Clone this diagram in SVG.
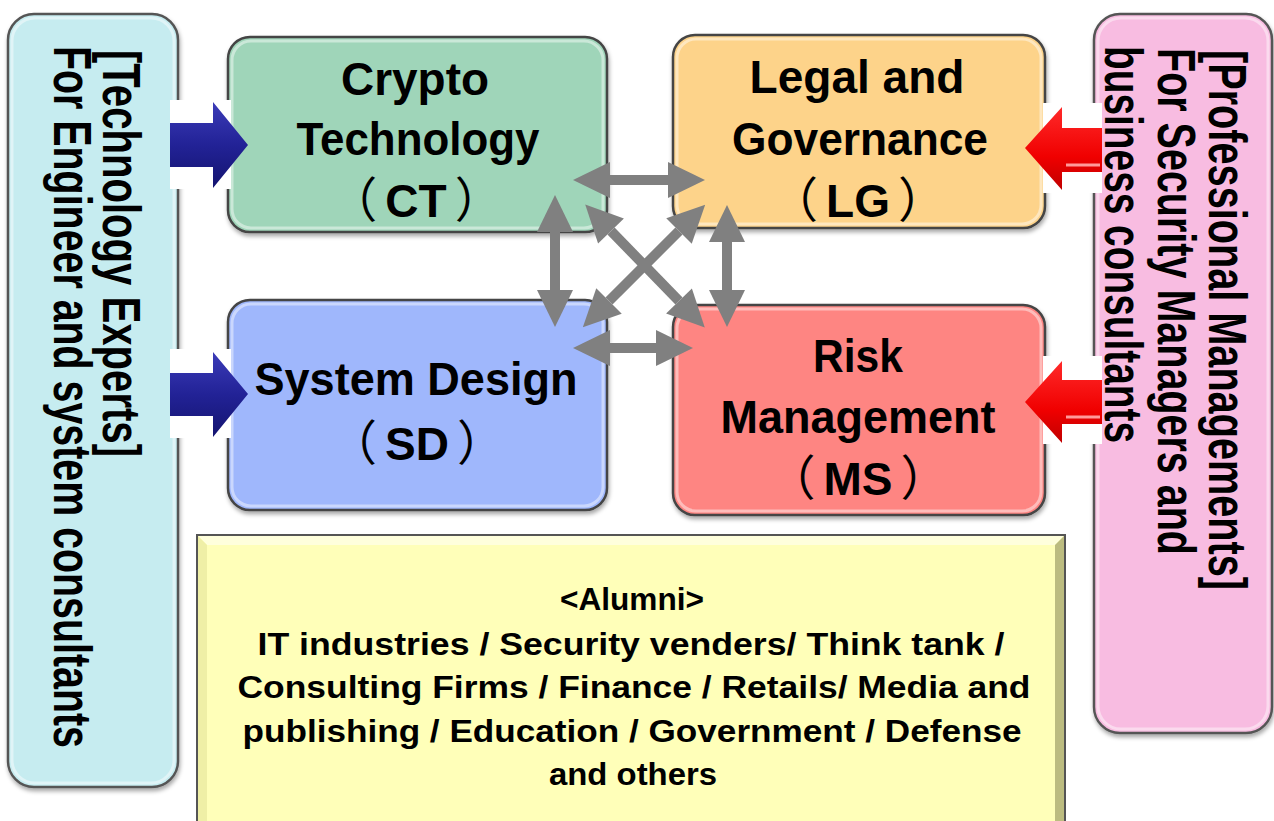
<svg xmlns="http://www.w3.org/2000/svg" width="1274" height="821" viewBox="0 0 1274 821">
<style>
  .panel { stroke: #555; stroke-width: 2.5; }
  .node { stroke: #444; stroke-width: 2.5; }
  .side { font-family: "Liberation Sans", "Noto Sans CJK JP", sans-serif; font-weight: bold; font-size: 53px; fill: #000; }
  .nt { font-family: "Liberation Sans", "Noto Sans CJK JP", sans-serif; font-weight: bold; font-size: 46px; fill: #000; text-anchor: middle; }
  .p { font-family: "Noto Sans CJK JP", sans-serif; font-weight: normal; font-size: 48px; }
  .at { font-family: "Liberation Sans", "Noto Sans CJK JP", sans-serif; font-weight: bold; font-size: 31px; fill: #000; text-anchor: middle; }
  .conn { stroke: #808080; stroke-width: 10; fill: none; marker-start: url(#gh); marker-end: url(#gh); }
  .hl { fill: none; stroke: #fff; stroke-opacity: 0.45; stroke-width: 3; }
</style>
<defs>
  <marker id="gh" markerUnits="userSpaceOnUse" markerWidth="37" markerHeight="36" viewBox="0 -18 37 36" refX="0" refY="0" orient="auto-start-reverse" overflow="visible">
    <path d="M0,-18 L37,0 L0,18 z" fill="#808080"/>
  </marker>
  <linearGradient id="blueG" x1="0" y1="0" x2="0" y2="1">
    <stop offset="0" stop-color="#3b3bb8"/>
    <stop offset="0.5" stop-color="#222296"/>
    <stop offset="1" stop-color="#141470"/>
  </linearGradient>
  <linearGradient id="redG" x1="0" y1="0" x2="0" y2="1">
    <stop offset="0" stop-color="#ff2a2a"/>
    <stop offset="0.6" stop-color="#f00000"/>
    <stop offset="1" stop-color="#c00000"/>
  </linearGradient>
  <filter id="sh" x="-5%" y="-5%" width="110%" height="112%">
    <feDropShadow dx="1" dy="3" stdDeviation="2" flood-color="#000" flood-opacity="0.35"/>
  </filter>
</defs>

<rect width="1274" height="821" fill="#fff"/>

<g id="panel-tech">
  <rect class="panel" x="8" y="14" width="170" height="773" rx="26" fill="#c6ecf0" filter="url(#sh)"/>
  <rect class="hl" x="12" y="18" width="162" height="765" rx="23"/>
  <text class="side" transform="translate(103,50) rotate(90)" textLength="407" lengthAdjust="spacingAndGlyphs">[Technology Experts]</text>
  <text class="side" transform="translate(54,46) rotate(90)" textLength="702" lengthAdjust="spacingAndGlyphs">For Engineer and system consultants</text>
</g>

<g id="panel-prof">
  <rect class="panel" x="1094" y="14" width="178" height="719" rx="26" fill="#f8bce1" filter="url(#sh)"/>
  <rect class="hl" x="1098" y="18" width="170" height="711" rx="23"/>
  <text class="side" transform="translate(1209,50) rotate(90)" textLength="540" lengthAdjust="spacingAndGlyphs">[Professional Managements]</text>
  <text class="side" transform="translate(1158,48) rotate(90)" textLength="507" lengthAdjust="spacingAndGlyphs">For Security Managers and</text>
  <text class="side" transform="translate(1105,46) rotate(90)" textLength="397" lengthAdjust="spacingAndGlyphs">business consultants</text>
</g>

<g id="node-ct">
  <rect class="node" x="228" y="37" width="379" height="195" rx="22" fill="#9fd5b9" filter="url(#sh)"/>
  <rect class="hl" x="232" y="41" width="371" height="187" rx="19"/>
  <text class="nt" x="415" y="95" textLength="148" lengthAdjust="spacingAndGlyphs">Crypto</text>
  <text class="nt" x="418" y="155" textLength="243" lengthAdjust="spacingAndGlyphs">Technology</text>
  <text class="nt" x="416" y="217"><tspan class="p">（</tspan><tspan dx="8">CT</tspan><tspan class="p" dx="8">）</tspan></text>
</g>

<g id="node-lg">
  <rect class="node" x="673" y="35" width="372" height="193" rx="22" fill="#fdd38a" filter="url(#sh)"/>
  <rect class="hl" x="677" y="39" width="364" height="185" rx="19"/>
  <text class="nt" x="857" y="93" textLength="215" lengthAdjust="spacingAndGlyphs">Legal and</text>
  <text class="nt" x="860" y="155" textLength="256" lengthAdjust="spacingAndGlyphs">Governance</text>
  <text class="nt" x="858" y="217"><tspan class="p">（</tspan><tspan dx="8">LG</tspan><tspan class="p" dx="8">）</tspan></text>
</g>

<g id="node-sd">
  <rect class="node" x="228" y="300" width="379" height="210" rx="22" fill="#9fb7fc" filter="url(#sh)"/>
  <rect class="hl" x="232" y="304" width="371" height="202" rx="19"/>
  <text class="nt" x="416" y="395" textLength="323" lengthAdjust="spacingAndGlyphs">System Design</text>
  <text class="nt" x="417" y="460"><tspan class="p">（</tspan><tspan dx="8">SD</tspan><tspan class="p" dx="8">）</tspan></text>
</g>

<g id="node-ms">
  <rect class="node" x="673" y="305" width="372" height="210" rx="22" fill="#fe8582" filter="url(#sh)"/>
  <rect class="hl" x="677" y="309" width="364" height="202" rx="19"/>
  <text class="nt" x="858" y="372" textLength="90" lengthAdjust="spacingAndGlyphs">Risk</text>
  <text class="nt" x="858" y="433" textLength="275" lengthAdjust="spacingAndGlyphs">Management</text>
  <text class="nt" x="858" y="495"><tspan class="p">（</tspan><tspan dx="8">MS</tspan><tspan class="p" dx="8">）</tspan></text>
</g>

<g id="node-alumni">
  <rect x="197" y="535" width="868" height="300" fill="#ffffb9" stroke="#555" stroke-width="2"/>
  <polygon points="198,536 1064,536 1055,545 207,545" fill="#ffffdc"/>
  <polygon points="1064,536 1064,834 1055,834 1055,545" fill="#bcbc80"/>
  <polygon points="198,536 207,545 207,834 198,834" fill="#efefa6"/>
  <rect x="197" y="535" width="868" height="300" fill="none" stroke="#555" stroke-width="2"/>
  <text class="at" x="632" y="610" textLength="144" lengthAdjust="spacingAndGlyphs">&lt;Alumni&gt;</text>
  <text class="at" x="631" y="655" textLength="747" lengthAdjust="spacingAndGlyphs">IT industries / Security venders/ Think tank /</text>
  <text class="at" x="634" y="698" textLength="793" lengthAdjust="spacingAndGlyphs">Consulting Firms / Finance / Retails/ Media and</text>
  <text class="at" x="632" y="742" textLength="779" lengthAdjust="spacingAndGlyphs">publishing / Education / Government / Defense</text>
  <text class="at" x="633" y="785" textLength="168" lengthAdjust="spacingAndGlyphs">and others</text>
</g>

<g id="input-arrows">
  <rect x="170" y="100" width="61" height="89" fill="#fff"/>
  <polygon points="170,123 213,123 213,102 248,145 213,188 213,167 170,167" fill="url(#blueG)"/>
  <rect x="170" y="349" width="61" height="89" fill="#fff"/>
  <polygon points="170,373 213,373 213,352 248,394 213,437 213,416 170,416" fill="url(#blueG)"/>
  <rect x="1043" y="103" width="59" height="90" fill="#fff"/>
  <polygon points="1102,128 1062,128 1062,107 1025,148 1062,190 1062,172 1102,172" fill="url(#redG)"/>
  <line x1="1066" y1="165" x2="1100" y2="165" stroke="#ff9a9a" stroke-width="3"/>
  <rect x="1043" y="356" width="59" height="88" fill="#fff"/>
  <polygon points="1102,380 1062,380 1062,361 1025,402 1062,443 1062,424 1102,424" fill="url(#redG)"/>
  <line x1="1066" y1="417" x2="1100" y2="417" stroke="#ff9a9a" stroke-width="3"/>
</g>

<g id="connectors">
  <line class="conn" x1="610" y1="180" x2="668" y2="180"/>
  <line class="conn" x1="610" y1="348" x2="656" y2="348"/>
  <line class="conn" x1="555" y1="232" x2="555" y2="290"/>
  <line class="conn" x1="727" y1="242" x2="727" y2="290"/>
  <line class="conn" x1="611" y1="231" x2="679" y2="301"/>
  <line class="conn" x1="679" y1="231" x2="609" y2="301"/>
</g>
</svg>
